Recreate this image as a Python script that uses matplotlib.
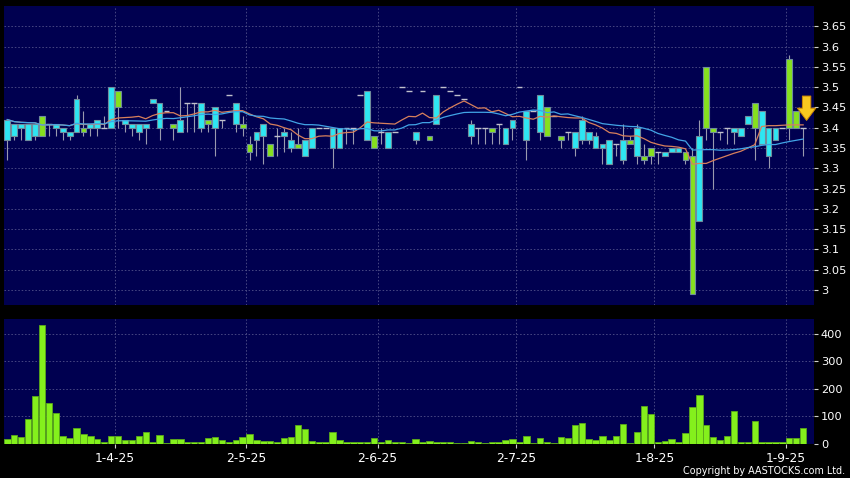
import numpy as np
import pandas as pd
import matplotlib
matplotlib.use('Agg')
import matplotlib.pyplot as plt
from matplotlib.ticker import FormatStrFormatter

# ---------------- data ----------------
opens = [3.37, 3.38, 3.40, 3.37, 3.38, 3.43, 3.41, 3.40, 3.39, 3.38,
         3.39, 3.40, 3.40, 3.40, 3.40, 3.40, 3.49, 3.41, 3.40, 3.39,
         3.40, 3.46, 3.40, 3.44, 3.41, 3.39, 3.46, 3.46, 3.40, 3.42,
         3.40, 3.42, 3.48, 3.41, 3.41, 3.36, 3.37, 3.38, 3.36, 3.38,
         3.38, 3.35, 3.36, 3.33, 3.35, 3.40, 3.40, 3.35, 3.35, 3.40,
         3.40, 3.48, 3.37, 3.38, 3.39, 3.35, 3.39, 3.50, 3.49, 3.37,
         3.49, 3.38, 3.41, 3.50, 3.49, 3.48, 3.47, 3.38, 3.40, 3.40,
         3.40, 3.41, 3.36, 3.40, 3.50, 3.37, 3.44, 3.39, 3.45, 3.43,
         3.38, 3.39, 3.35, 3.37, 3.37, 3.35, 3.35, 3.31, 3.36, 3.32,
         3.37, 3.33, 3.33, 3.35, 3.34, 3.33, 3.34, 3.34, 3.34, 3.33,
         3.17, 3.55, 3.40, 3.39, 3.40, 3.39, 3.38, 3.41, 3.46, 3.36,
         3.33, 3.37, 3.40, 3.57, 3.44, 3.40]
highs = [3.42, 3.41, 3.41, 3.41, 3.41, 3.43, 3.41, 3.41, 3.40, 3.39,
         3.48, 3.44, 3.41, 3.42, 3.43, 3.50, 3.49, 3.42, 3.41, 3.41,
         3.41, 3.47, 3.46, 3.44, 3.41, 3.50, 3.46, 3.46, 3.46, 3.42,
         3.45, 3.42, 3.48, 3.46, 3.43, 3.38, 3.39, 3.41, 3.36, 3.40,
         3.40, 3.39, 3.40, 3.37, 3.40, 3.40, 3.40, 3.40, 3.40, 3.40,
         3.40, 3.48, 3.49, 3.38, 3.40, 3.39, 3.39, 3.50, 3.49, 3.39,
         3.49, 3.38, 3.48, 3.50, 3.49, 3.48, 3.47, 3.42, 3.40, 3.40,
         3.40, 3.41, 3.40, 3.42, 3.50, 3.44, 3.44, 3.48, 3.45, 3.43,
         3.38, 3.39, 3.39, 3.43, 3.39, 3.39, 3.36, 3.37, 3.36, 3.41,
         3.38, 3.41, 3.36, 3.35, 3.34, 3.34, 3.35, 3.35, 3.34, 3.35,
         3.42, 3.55, 3.40, 3.39, 3.40, 3.40, 3.40, 3.43, 3.46, 3.44,
         3.40, 3.40, 3.40, 3.58, 3.44, 3.40]
lows = [3.32, 3.37, 3.37, 3.37, 3.37, 3.38, 3.38, 3.38, 3.37, 3.37,
        3.39, 3.38, 3.38, 3.38, 3.40, 3.40, 3.40, 3.39, 3.38, 3.37,
        3.36, 3.46, 3.37, 3.44, 3.37, 3.39, 3.39, 3.39, 3.39, 3.39,
        3.33, 3.40, 3.48, 3.39, 3.38, 3.32, 3.33, 3.31, 3.33, 3.33,
        3.34, 3.34, 3.35, 3.33, 3.35, 3.40, 3.40, 3.30, 3.35, 3.36,
        3.36, 3.48, 3.37, 3.35, 3.36, 3.35, 3.39, 3.50, 3.49, 3.36,
        3.49, 3.37, 3.41, 3.50, 3.49, 3.48, 3.47, 3.36, 3.36, 3.36,
        3.36, 3.36, 3.36, 3.37, 3.50, 3.32, 3.44, 3.37, 3.38, 3.43,
        3.35, 3.37, 3.33, 3.36, 3.36, 3.35, 3.31, 3.31, 3.33, 3.31,
        3.36, 3.31, 3.31, 3.31, 3.31, 3.33, 3.34, 3.34, 3.31, 2.99,
        3.17, 3.37, 3.25, 3.37, 3.36, 3.36, 3.38, 3.41, 3.32, 3.36,
        3.30, 3.37, 3.40, 3.37, 3.40, 3.33]
closes = [3.42, 3.41, 3.41, 3.41, 3.41, 3.38, 3.41, 3.41, 3.40, 3.39,
          3.47, 3.39, 3.41, 3.42, 3.40, 3.50, 3.45, 3.42, 3.41, 3.41,
          3.41, 3.47, 3.46, 3.44, 3.40, 3.42, 3.46, 3.46, 3.46, 3.41,
          3.45, 3.42, 3.48, 3.46, 3.40, 3.34, 3.39, 3.41, 3.33, 3.38,
          3.39, 3.37, 3.35, 3.37, 3.40, 3.40, 3.40, 3.40, 3.40, 3.40,
          3.40, 3.48, 3.49, 3.35, 3.39, 3.39, 3.39, 3.50, 3.49, 3.39,
          3.49, 3.37, 3.48, 3.50, 3.49, 3.48, 3.47, 3.41, 3.40, 3.40,
          3.39, 3.41, 3.40, 3.42, 3.50, 3.44, 3.44, 3.48, 3.38, 3.43,
          3.37, 3.39, 3.39, 3.42, 3.39, 3.38, 3.36, 3.37, 3.36, 3.37,
          3.36, 3.40, 3.32, 3.33, 3.34, 3.34, 3.35, 3.35, 3.32, 2.99,
          3.38, 3.40, 3.39, 3.39, 3.40, 3.40, 3.40, 3.43, 3.40, 3.44,
          3.40, 3.40, 3.40, 3.40, 3.40, 3.40]
volumes = [17, 30, 22, 90, 174, 433, 147, 111, 27, 19,
           57, 34, 26, 17, 5, 26, 29, 11, 13, 29,
           43, 4, 32, 2, 18, 15, 6, 6, 6, 19,
           22, 13, 6, 12, 23, 36, 11, 10, 10, 6,
           19, 24, 66, 52, 10, 6, 5, 43, 11, 6,
           6, 6, 6, 19, 6, 11, 6, 6, 2, 15,
           4, 10, 5, 5, 4, 1, 1, 10, 7, 2,
           5, 5, 11, 17, 5, 26, 1, 21, 6, 2,
           23, 19, 69, 74, 17, 11, 29, 11, 28, 72,
           2, 41, 137, 109, 6, 10, 15, 7, 38, 134,
           178, 67, 22, 13, 26, 117, 4, 4, 83, 7,
           7, 5, 4, 19, 19, 56]
tick_pos = [15.5, 34.5, 53.5, 73.5, 93.5, 112.5]
tick_labels = ['1-4-25', '2-5-25', '2-6-25', '2-7-25', '1-8-25', '1-9-25']
price_ticks = [3.0, 3.05, 3.1, 3.15, 3.2, 3.25, 3.3, 3.35, 3.4, 3.45, 3.5, 3.55, 3.6, 3.65]
vol_ticks = [0, 100, 200, 300, 400]

# ---------------- styling ----------------
BG = '#000050'
UP = '#2ee6f2'
DOWN = '#86e01e'
EDGE = '#6f8c9c'
WICK = '#9a9aae'
DOJI = '#c0c0cc'
GRID = '#5a5a90'
MA10_C = '#d8805c'
MA20_C = '#42a4e6'

o = np.array(opens); h = np.array(highs); l = np.array(lows); c = np.array(closes)
v = np.array(volumes)
x = np.arange(len(c))

s = pd.Series(c)
ma10 = s.rolling(10, min_periods=1).mean()
ma20 = s.rolling(20, min_periods=1).mean()

fig = plt.figure(figsize=(8.5, 4.78), dpi=100, facecolor='black')
ax = fig.add_axes([4/850, 1-305/478, 810/850, 299/478])
axv = fig.add_axes([4/850, 1-443.5/478, 810/850, 124.5/478])

xlim = (-0.48, 116.57)
for a in (ax, axv):
    a.set_facecolor(BG)
    for sp in a.spines.values():
        sp.set_visible(False)
    a.set_xlim(*xlim)
    a.grid(True, color=GRID, linestyle=(0, (2, 2.5)), linewidth=0.55)
    a.set_axisbelow(True)
    a.yaxis.tick_right()
    a.tick_params(axis='y', colors='#d0d0d0', labelcolor='white', length=3,
                  width=0.8, labelsize=8.2, pad=2)

# candles
up = c > o
down = c < o
doji = c == o
ax.vlines(x, l, h, color=WICK, linewidth=0.8, zorder=2)
ax.bar(x[up], (c - o)[up], bottom=o[up], width=0.84, color=UP,
       edgecolor=EDGE, linewidth=0.8, zorder=3)
ax.bar(x[down], (o - c)[down], bottom=c[down], width=0.84, color=DOWN,
       edgecolor=EDGE, linewidth=0.8, zorder=3)
ax.hlines(c[doji], x[doji] - 0.42, x[doji] + 0.42, color=DOJI, linewidth=1.0, zorder=3)

ax.plot(x, ma10, color=MA10_C, linewidth=0.9, zorder=4)
ax.plot(x, ma20, color=MA20_C, linewidth=0.9, zorder=4)

# arrow marking the last price
ax.annotate('', xy=(x[-1] + 0.5, c[-1] + 0.018), xytext=(x[-1] + 0.5, c[-1] + 0.078),
            arrowprops=dict(arrowstyle='simple,head_length=0.8,head_width=1.2,tail_width=0.55',
                            fc='#f8c820', ec='#d08a00', lw=0.7, mutation_scale=11,
                            shrinkA=0, shrinkB=0),
            zorder=10, annotation_clip=False)

ax.set_ylim(2.963, 3.70)
ax.set_yticks(price_ticks)
ax.yaxis.set_major_formatter(FormatStrFormatter('%g'))
ax.set_xticks(tick_pos)
ax.tick_params(axis='x', length=0, labelbottom=False)

# volume
axv.bar(x, v, width=0.92, color='#84f01c', edgecolor='#5aa81a', linewidth=0.6, zorder=3)
axv.set_ylim(0, 455)
axv.set_yticks(vol_ticks)
axv.set_xticks(tick_pos)
axv.set_xticklabels(tick_labels)
axv.tick_params(axis='x', colors='#d0d0d0', labelcolor='white', length=3,
                width=0.8, labelsize=8.8, pad=3)

fig.text(845/850, 1-471.5/478, 'Copyright by AASTOCKS.com Ltd.', ha='right',
         va='center', color='white', fontsize=6.9)

fig.savefig('out.png', dpi=100, facecolor='black')
